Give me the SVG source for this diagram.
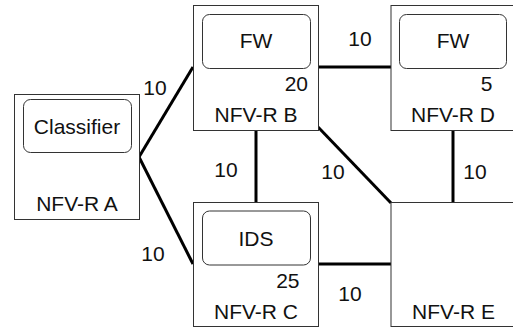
<svg xmlns="http://www.w3.org/2000/svg" width="513" height="330" viewBox="0 0 513 330">
<style>
.box{fill:#fff;stroke:#333;stroke-width:1}
.fn{fill:#fff;stroke:#333;stroke-width:1}
.t{font-family:"Liberation Sans",Arial,Helvetica,sans-serif;font-size:21px;fill:#111}
.m{text-anchor:middle}
.e{text-anchor:end}
.link{stroke:#000;stroke-width:3;fill:none}
</style>
<rect width="513" height="330" fill="#fff"/>
<g id="connectors">
<line class="link" x1="139" y1="157" x2="193" y2="67"/>
<line class="link" x1="139" y1="157" x2="193" y2="264"/>
<line class="link" x1="318" y1="67" x2="391" y2="67"/>
<line class="link" x1="256" y1="130" x2="256" y2="202"/>
<line class="link" x1="318" y1="127" x2="391" y2="203"/>
<line class="link" x1="453" y1="130" x2="453" y2="202"/>
<line class="link" x1="318" y1="264" x2="391" y2="264"/>
<text class="t m" x="155" y="95">10</text>
<text class="t m" x="153" y="261">10</text>
<text class="t m" x="360" y="46">10</text>
<text class="t m" x="226" y="177">10</text>
<text class="t m" x="333" y="179">10</text>
<text class="t m" x="475" y="179">10</text>
<text class="t m" x="350" y="301">10</text>
</g>
<g id="nodeA">
<rect class="box" x="14.5" y="94.5" width="125" height="125"/>
<rect class="fn" x="23.5" y="99.5" width="108" height="53" rx="7"/>
<text class="t m" x="77" y="134">Classifier</text>
<text class="t m" x="77" y="211">NFV-R A</text>
</g>
<g id="nodeB">
<rect class="box" x="193.5" y="5.5" width="125" height="125"/>
<rect class="fn" x="202.5" y="14.5" width="108" height="54" rx="7"/>
<text class="t m" x="256" y="48">FW</text>
<text class="t e" x="308" y="91">20</text>
<text class="t m" x="256" y="122">NFV-R B</text>
</g>
<g id="nodeD">
<rect class="box" x="391" y="5.5" width="125" height="125"/>
<rect class="fn" x="399.5" y="14.5" width="107" height="54" rx="7"/>
<text class="t m" x="453" y="48">FW</text>
<text class="t e" x="492.5" y="91">5</text>
<text class="t m" x="453" y="122">NFV-R D</text>
</g>
<g id="nodeC">
<rect class="box" x="193.5" y="202.5" width="125" height="124"/>
<rect class="fn" x="202.5" y="211" width="108" height="54" rx="7"/>
<text class="t m" x="256" y="246">IDS</text>
<text class="t e" x="299.5" y="288">25</text>
<text class="t m" x="256" y="319">NFV-R C</text>
</g>
<g id="nodeE">
<rect class="box" x="391" y="202.5" width="125" height="124"/>
<text class="t m" x="453.5" y="319">NFV-R E</text>
</g>
</svg>
